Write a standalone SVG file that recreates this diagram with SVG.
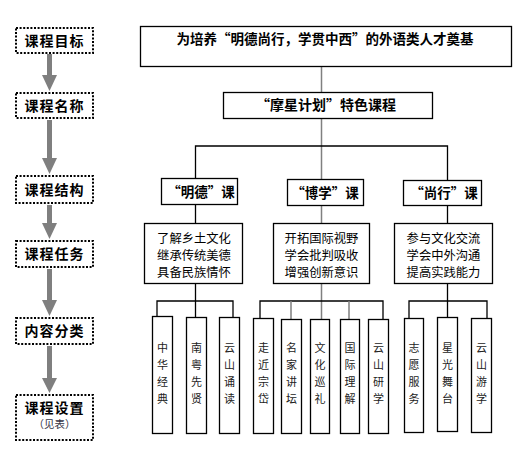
<svg xmlns="http://www.w3.org/2000/svg" width="529" height="452" viewBox="0 0 529 452">
<defs>
<style>
.bg{fill:#ffffff}
.dot{fill:#ffffff;stroke:#000;stroke-width:2;stroke-dasharray:2 1.6}
.box{fill:#ffffff;stroke:#000;stroke-width:1.3}
.lab{font-family:"Noto Sans CJK SC","Noto Sans CJK TC",sans-serif;font-weight:bold;font-size:14px;fill:#000;text-anchor:middle;letter-spacing:1px}
.hd{font-family:"Noto Sans CJK SC",sans-serif;font-weight:bold;font-size:13.5px;fill:#000;text-anchor:middle}
.tk{font-family:"Noto Sans CJK SC",sans-serif;font-size:12.3px;fill:#000;text-anchor:middle}
.sm{font-family:"Noto Sans CJK SC",sans-serif;font-size:11px;fill:#222;text-anchor:middle}
.ln{fill:none;stroke:#000;stroke-width:1.3}
.gl{fill:none;stroke:#808080;stroke-width:1.5}
.arr{fill:#7f7f7f}
</style>
</defs>
<rect class="bg" x="0" y="0" width="529" height="452"/>

<g id="connectors">
  <!-- left arrows -->
  <path class="arr" d="M47 54 H52 V75 H57 L49.5 91 L42 75 H47 Z"/>
  <path class="arr" d="M47 120 H52 V158 H57 L49.5 174 L42 158 H47 Z"/>
  <path class="arr" d="M47 205 H52 V223 H57 L49.5 239 L42 223 H47 Z"/>
  <path class="arr" d="M47 269 H52 V300 H57 L49.5 316 L42 300 H47 Z"/>
  <path class="arr" d="M47 346 H52 V378 H57 L49.5 393 L42 378 H47 Z"/>
  <!-- central trunk -->
  <path class="gl" d="M321.5 67 V92 M321.5 118 V146 M321.5 146 V179 M321.5 205 V223 M321.5 283 V319"/>
  <!-- level branch -->
  <path class="ln" d="M195.5 179 V146 H447.5 V180"/>
  <path class="ln" d="M195.5 204 V223 M447.5 205 V223"/>
  <!-- group 1 -->
  <path class="ln" d="M195.5 283 V317 M157 316 V301 H233 V317"/>
  <!-- group 2 -->
  <path class="ln" d="M260 318 V301 H383 V319"/>
  <path class="gl" d="M291 301 V319 M349 301 V319"/>
  <!-- group 3 -->
  <path class="ln" d="M447.5 283 V317 M409 318 V301 H487 V318"/>
</g>

<g id="lbl-goal"><rect class="dot" x="16" y="28" width="77" height="25"/><text class="lab" x="54.5" y="45.5">课程目标</text></g>
<g id="lbl-name"><rect class="dot" x="16" y="93" width="77" height="25"/><text class="lab" x="54.5" y="110.5">课程名称</text></g>
<g id="lbl-struct"><rect class="dot" x="16" y="176" width="77" height="27"/><text class="lab" x="54.5" y="194.5">课程结构</text></g>
<g id="lbl-task"><rect class="dot" x="16" y="241" width="77" height="26"/><text class="lab" x="54.5" y="259">课程任务</text></g>
<g id="lbl-content"><rect class="dot" x="16" y="318" width="77" height="26"/><text class="lab" x="54.5" y="336">内容分类</text></g>
<g id="lbl-setting"><rect class="dot" x="16" y="395" width="77" height="45"/><text class="lab" x="54.5" y="413">课程设置</text><text class="sm" x="54.5" y="428" style="font-size:10.5px;fill:#334">（见表）</text></g>

<g id="goal"><rect class="box" x="140.5" y="26.5" width="371" height="40"/><text class="hd" x="325" y="44">为培养“明德尚行，学贯中西”的外语类人才奠基</text></g>
<g id="name"><rect class="box" x="223.5" y="92.5" width="209" height="26"/><text class="hd" x="326" y="110" style="font-size:14px">“摩星计划”特色课程</text></g>

<g id="mingde"><rect class="box" x="161.5" y="178.5" width="76" height="26"/><text class="hd" x="201" y="197">“明德”课</text></g>
<g id="boxue"><rect class="box" x="287.5" y="179.5" width="76" height="26"/><text class="hd" x="325" y="198">“博学”课</text></g>
<g id="shangxing"><rect class="box" x="403.5" y="180.5" width="78" height="25"/><text class="hd" x="444" y="198">“尚行”课</text></g>

<g id="task1"><rect class="box" x="144.5" y="223.5" width="98" height="60"/>
<text class="tk" x="194" y="242.5">了解乡土文化</text><text class="tk" x="194" y="259.5">继承传统美德</text><text class="tk" x="194" y="276.5">具备民族情怀</text></g>
<g id="task2"><rect class="box" x="273.5" y="223.5" width="96" height="60"/>
<text class="tk" x="321.5" y="242.5">开拓国际视野</text><text class="tk" x="321.5" y="259.5">学会批判吸收</text><text class="tk" x="321.5" y="276.5">增强创新意识</text></g>
<g id="task3"><rect class="box" x="394.5" y="223.5" width="98" height="60"/>
<text class="tk" x="443.5" y="242.5">参与文化交流</text><text class="tk" x="443.5" y="259.5">学会中外沟通</text><text class="tk" x="443.5" y="276.5">提高实践能力</text></g>

<g id="c1"><rect class="box" x="152.5" y="316.5" width="20" height="117"/><text class="sm" x="162.5" y="352">中<tspan x="162.5" dy="17">华</tspan><tspan x="162.5" dy="17">经</tspan><tspan x="162.5" dy="17">典</tspan></text></g>
<g id="c2"><rect class="box" x="186.5" y="317.5" width="20" height="116"/><text class="sm" x="196.5" y="352">南<tspan x="196.5" dy="17">粤</tspan><tspan x="196.5" dy="17">先</tspan><tspan x="196.5" dy="17">贤</tspan></text></g>
<g id="c3"><rect class="box" x="219.5" y="317.5" width="20" height="116"/><text class="sm" x="229.5" y="352">云<tspan x="229.5" dy="17">山</tspan><tspan x="229.5" dy="17">诵</tspan><tspan x="229.5" dy="17">读</tspan></text></g>
<g id="c4"><rect class="box" x="253.5" y="318.5" width="20" height="115"/><text class="sm" x="263.5" y="352">走<tspan x="263.5" dy="17">近</tspan><tspan x="263.5" dy="17">宗</tspan><tspan x="263.5" dy="17">岱</tspan></text></g>
<g id="c5"><rect class="box" x="281.5" y="319.5" width="20" height="114"/><text class="sm" x="291.5" y="352">名<tspan x="291.5" dy="17">家</tspan><tspan x="291.5" dy="17">讲</tspan><tspan x="291.5" dy="17">坛</tspan></text></g>
<g id="c6"><rect class="box" x="310.5" y="319.5" width="19" height="114"/><text class="sm" x="320" y="352">文<tspan x="320" dy="17">化</tspan><tspan x="320" dy="17">巡</tspan><tspan x="320" dy="17">礼</tspan></text></g>
<g id="c7"><rect class="box" x="340.5" y="319.5" width="19" height="114"/><text class="sm" x="350" y="352">国<tspan x="350" dy="17">际</tspan><tspan x="350" dy="17">理</tspan><tspan x="350" dy="17">解</tspan></text></g>
<g id="c8"><rect class="box" x="368.5" y="319.5" width="20" height="114"/><text class="sm" x="378.5" y="352">云<tspan x="378.5" dy="17">山</tspan><tspan x="378.5" dy="17">研</tspan><tspan x="378.5" dy="17">学</tspan></text></g>
<g id="c9"><rect class="box" x="404.5" y="318.5" width="19" height="114"/><text class="sm" x="414" y="352">志<tspan x="414" dy="17">愿</tspan><tspan x="414" dy="17">服</tspan><tspan x="414" dy="17">务</tspan></text></g>
<g id="c10"><rect class="box" x="437.5" y="317.5" width="20" height="114"/><text class="sm" x="447.5" y="352">星<tspan x="447.5" dy="17">光</tspan><tspan x="447.5" dy="17">舞</tspan><tspan x="447.5" dy="17">台</tspan></text></g>
<g id="c11"><rect class="box" x="471.5" y="318.5" width="20" height="114"/><text class="sm" x="481.5" y="352">云<tspan x="481.5" dy="17">山</tspan><tspan x="481.5" dy="17">游</tspan><tspan x="481.5" dy="17">学</tspan></text></g>
</svg>
